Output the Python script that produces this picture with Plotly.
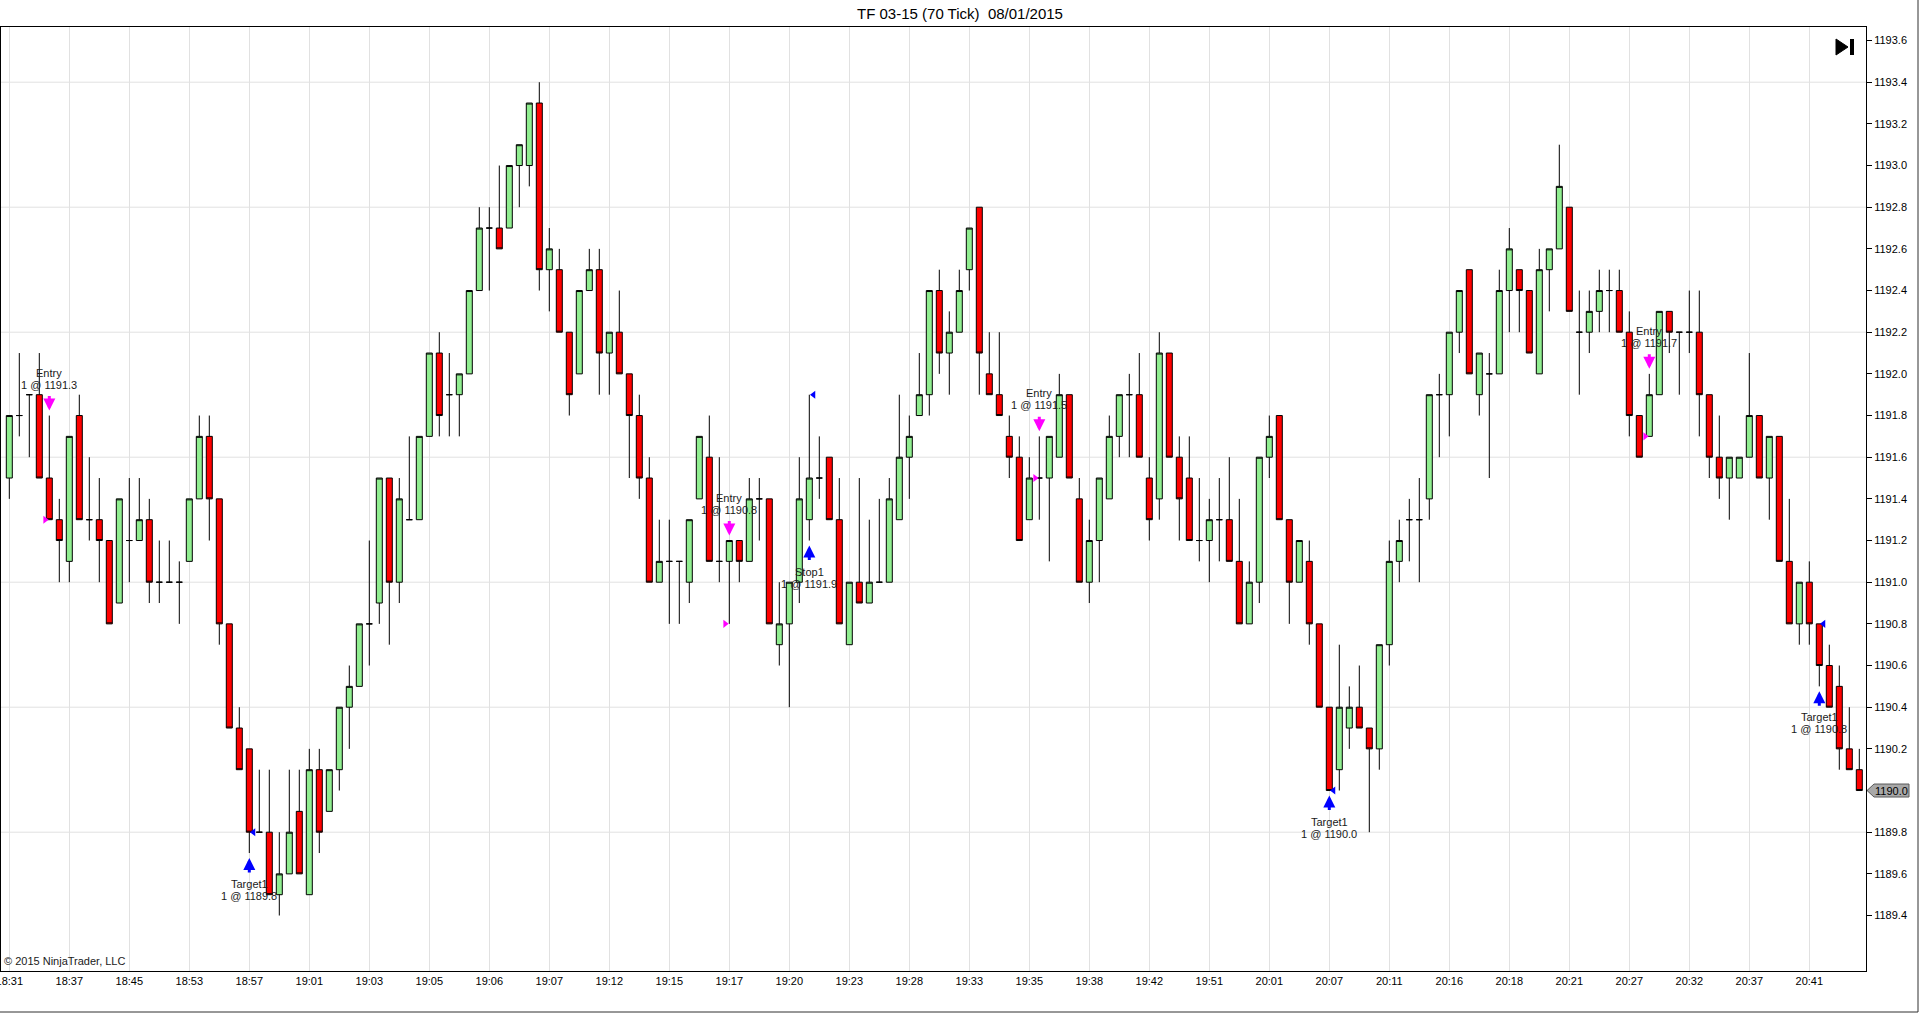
import plotly.graph_objects as go

# ---------------- data ----------------
OPEN = [1191.5, 1191.8, 1191.9, 1191.9, 1191.5, 1191.3, 1191.1, 1191.8, 1191.3, 1191.3,
        1191.2, 1190.9, 1191.2, 1191.2, 1191.3, 1191.0, 1191.0, 1191.0, 1191.1, 1191.4,
        1191.7, 1191.4, 1190.8, 1190.3, 1190.2, 1189.8, 1189.8, 1189.5, 1189.6, 1189.9,
        1189.5, 1190.1, 1189.9, 1190.1, 1190.4, 1190.5, 1190.8, 1190.9, 1191.5, 1191.0,
        1191.3, 1191.3, 1191.7, 1192.1, 1191.9, 1191.9, 1192.0, 1192.4, 1192.7, 1192.7,
        1192.7, 1193.0, 1193.0, 1193.3, 1192.5, 1192.5, 1192.2, 1192.0, 1192.4, 1192.5,
        1192.1, 1192.2, 1192.0, 1191.8, 1191.5, 1191.0, 1191.1, 1191.1, 1191.0, 1191.4,
        1191.6, 1191.1, 1191.1, 1191.2, 1191.1, 1191.4, 1191.4, 1190.7, 1190.8, 1191.0,
        1191.3, 1191.5, 1191.6, 1191.3, 1190.7, 1191.0, 1190.9, 1191.0, 1191.0, 1191.3,
        1191.6, 1191.8, 1191.9, 1192.4, 1192.1, 1192.2, 1192.5, 1192.8, 1192.0, 1191.9,
        1191.7, 1191.6, 1191.3, 1191.5, 1191.5, 1191.6, 1191.9, 1191.4, 1191.0, 1191.2,
        1191.4, 1191.7, 1191.9, 1191.9, 1191.5, 1191.4, 1192.1, 1191.6, 1191.5, 1191.2,
        1191.2, 1191.3, 1191.3, 1191.1, 1190.8, 1191.0, 1191.6, 1191.8, 1191.3, 1191.0,
        1191.1, 1190.8, 1190.4, 1190.1, 1190.3, 1190.4, 1190.3, 1190.2, 1190.7, 1191.1,
        1191.3, 1191.3, 1191.4, 1191.9, 1191.9, 1192.2, 1192.5, 1191.9, 1192.0, 1192.0,
        1192.4, 1192.5, 1192.4, 1192.0, 1192.5, 1192.6, 1192.8, 1192.2, 1192.2, 1192.3,
        1192.4, 1192.4, 1192.2, 1191.8, 1191.7, 1191.9, 1192.3, 1192.2, 1192.2, 1192.2,
        1191.9, 1191.6, 1191.5, 1191.5, 1191.6, 1191.8, 1191.5, 1191.7, 1191.1, 1190.8,
        1191.0, 1190.8, 1190.6, 1190.5, 1190.2, 1190.1]
HIGH = [1191.8, 1192.1, 1191.9, 1192.1, 1191.8, 1191.4, 1191.7, 1191.9, 1191.6, 1191.5,
        1191.2, 1191.4, 1191.5, 1191.5, 1191.4, 1191.2, 1191.2, 1191.1, 1191.4, 1191.8,
        1191.8, 1191.4, 1190.8, 1190.4, 1190.2, 1190.1, 1190.1, 1189.8, 1190.1, 1190.1,
        1190.2, 1190.2, 1190.1, 1190.4, 1190.6, 1190.8, 1191.2, 1191.5, 1191.5, 1191.5,
        1191.7, 1191.7, 1192.1, 1192.2, 1192.1, 1192.0, 1192.4, 1192.8, 1192.8, 1193.0,
        1193.0, 1193.1, 1193.3, 1193.4, 1192.7, 1192.6, 1192.2, 1192.4, 1192.6, 1192.6,
        1192.2, 1192.4, 1192.0, 1191.9, 1191.6, 1191.3, 1191.3, 1191.1, 1191.3, 1191.7,
        1191.8, 1191.6, 1191.2, 1191.2, 1191.5, 1191.5, 1191.4, 1191.0, 1191.0, 1191.6,
        1191.9, 1191.7, 1191.6, 1191.5, 1191.0, 1191.5, 1191.3, 1191.4, 1191.5, 1191.9,
        1191.8, 1192.1, 1192.4, 1192.5, 1192.3, 1192.5, 1192.7, 1192.8, 1192.2, 1192.2,
        1191.8, 1191.7, 1191.6, 1191.7, 1191.7, 1192.0, 1191.9, 1191.5, 1191.3, 1191.5,
        1191.8, 1191.9, 1192.0, 1192.1, 1191.6, 1192.2, 1192.1, 1191.7, 1191.7, 1191.5,
        1191.4, 1191.5, 1191.6, 1191.4, 1191.1, 1191.6, 1191.8, 1191.8, 1191.3, 1191.2,
        1191.2, 1190.8, 1190.4, 1190.7, 1190.5, 1190.6, 1190.3, 1190.7, 1191.2, 1191.3,
        1191.4, 1191.5, 1191.9, 1192.0, 1192.2, 1192.4, 1192.5, 1192.1, 1192.1, 1192.5,
        1192.7, 1192.5, 1192.4, 1192.6, 1192.6, 1193.1, 1192.8, 1192.4, 1192.4, 1192.5,
        1192.5, 1192.5, 1192.3, 1191.8, 1192.0, 1192.3, 1192.3, 1192.2, 1192.4, 1192.4,
        1191.9, 1191.8, 1191.6, 1191.6, 1192.1, 1191.8, 1191.7, 1191.7, 1191.4, 1191.0,
        1191.1, 1190.8, 1190.7, 1190.6, 1190.4, 1190.2]
LOW = [1191.4, 1191.7, 1191.6, 1191.5, 1191.3, 1191.0, 1191.0, 1191.3, 1191.2, 1191.0,
       1190.8, 1190.9, 1191.0, 1191.2, 1190.9, 1190.9, 1191.0, 1190.8, 1191.1, 1191.4,
       1191.2, 1190.7, 1190.3, 1190.1, 1189.7, 1189.8, 1189.5, 1189.4, 1189.6, 1189.6,
       1189.5, 1189.7, 1189.9, 1190.0, 1190.2, 1190.5, 1190.6, 1190.8, 1190.7, 1190.9,
       1191.3, 1191.3, 1191.7, 1191.7, 1191.7, 1191.7, 1192.0, 1192.4, 1192.4, 1192.6,
       1192.7, 1192.8, 1192.9, 1192.4, 1192.3, 1192.2, 1191.8, 1192.0, 1192.4, 1191.9,
       1191.9, 1192.0, 1191.5, 1191.4, 1191.0, 1191.0, 1190.8, 1190.8, 1190.9, 1191.4,
       1191.1, 1191.0, 1190.8, 1191.0, 1191.1, 1191.2, 1190.8, 1190.6, 1190.4, 1190.9,
       1191.2, 1191.4, 1191.3, 1190.8, 1190.7, 1190.9, 1190.9, 1191.0, 1191.0, 1191.3,
       1191.4, 1191.8, 1191.8, 1192.0, 1191.9, 1192.2, 1192.4, 1191.9, 1191.9, 1191.8,
       1191.5, 1191.2, 1191.3, 1191.3, 1191.1, 1191.6, 1191.5, 1191.0, 1190.9, 1191.0,
       1191.4, 1191.6, 1191.6, 1191.6, 1191.2, 1191.3, 1191.6, 1191.2, 1191.2, 1191.1,
       1191.0, 1191.1, 1191.1, 1190.8, 1190.8, 1190.9, 1191.5, 1191.3, 1190.8, 1191.0,
       1190.7, 1190.4, 1190.0, 1190.0, 1190.2, 1190.3, 1189.8, 1190.1, 1190.6, 1191.0,
       1191.1, 1191.0, 1191.3, 1191.6, 1191.7, 1192.1, 1192.0, 1191.8, 1191.5, 1192.0,
       1192.2, 1192.2, 1192.1, 1192.0, 1192.3, 1192.6, 1192.3, 1191.9, 1192.1, 1192.2,
       1192.2, 1192.2, 1191.7, 1191.6, 1191.7, 1191.9, 1192.1, 1191.9, 1192.1, 1191.7,
       1191.5, 1191.4, 1191.3, 1191.5, 1191.6, 1191.5, 1191.3, 1191.1, 1190.8, 1190.7,
       1190.7, 1190.5, 1190.4, 1190.1, 1190.1, 1190.0]
CLOSE = [1191.8, 1191.8, 1191.9, 1191.5, 1191.3, 1191.2, 1191.7, 1191.3, 1191.3, 1191.2,
         1190.8, 1191.4, 1191.2, 1191.3, 1191.0, 1191.0, 1191.0, 1191.0, 1191.4, 1191.7,
         1191.4, 1190.8, 1190.3, 1190.1, 1189.8, 1189.8, 1189.5, 1189.6, 1189.8, 1189.6,
         1190.1, 1189.8, 1190.1, 1190.4, 1190.5, 1190.8, 1190.8, 1191.5, 1191.0, 1191.4,
         1191.3, 1191.7, 1192.1, 1191.8, 1191.9, 1192.0, 1192.4, 1192.7, 1192.7, 1192.6,
         1193.0, 1193.1, 1193.3, 1192.5, 1192.6, 1192.2, 1191.9, 1192.4, 1192.5, 1192.1,
         1192.2, 1192.0, 1191.8, 1191.5, 1191.0, 1191.1, 1191.1, 1191.1, 1191.3, 1191.7,
         1191.1, 1191.1, 1191.2, 1191.1, 1191.4, 1191.4, 1190.8, 1190.8, 1191.0, 1191.4,
         1191.5, 1191.5, 1191.3, 1190.8, 1191.0, 1190.9, 1191.0, 1191.0, 1191.4, 1191.6,
         1191.7, 1191.9, 1192.4, 1192.1, 1192.2, 1192.4, 1192.7, 1192.1, 1191.9, 1191.8,
         1191.6, 1191.2, 1191.5, 1191.5, 1191.7, 1191.9, 1191.5, 1191.0, 1191.2, 1191.5,
         1191.7, 1191.9, 1191.9, 1191.6, 1191.3, 1192.1, 1191.6, 1191.4, 1191.2, 1191.2,
         1191.3, 1191.3, 1191.1, 1190.8, 1191.0, 1191.6, 1191.7, 1191.3, 1191.0, 1191.2,
         1190.8, 1190.4, 1190.0, 1190.4, 1190.4, 1190.3, 1190.2, 1190.7, 1191.1, 1191.2,
         1191.3, 1191.3, 1191.9, 1191.9, 1192.2, 1192.4, 1192.0, 1192.1, 1192.0, 1192.4,
         1192.6, 1192.4, 1192.1, 1192.5, 1192.6, 1192.9, 1192.3, 1192.2, 1192.3, 1192.4,
         1192.4, 1192.2, 1191.8, 1191.6, 1191.9, 1192.3, 1192.2, 1192.2, 1192.2, 1191.9,
         1191.6, 1191.5, 1191.6, 1191.6, 1191.8, 1191.5, 1191.7, 1191.1, 1190.8, 1191.0,
         1190.8, 1190.6, 1190.4, 1190.2, 1190.1, 1190.0]

TIME_LABELS = ["18:31", "18:37", "18:45", "18:53", "18:57", "19:01", "19:03", "19:05",
               "19:06", "19:07", "19:12", "19:15", "19:17", "19:20", "19:23", "19:28",
               "19:33", "19:35", "19:38", "19:42", "19:51", "20:01", "20:07", "20:11",
               "20:16", "20:18", "20:21", "20:27", "20:32", "20:37", "20:41"]
BARS_PER_LABEL = 6
PRICE_TICKS = [1189.4, 1189.6, 1189.8, 1190.0, 1190.2, 1190.4, 1190.6, 1190.8, 1191.0,
               1191.2, 1191.4, 1191.6, 1191.8, 1192.0, 1192.2, 1192.4, 1192.6, 1192.8,
               1193.0, 1193.2, 1193.4, 1193.6]
GRID_PRICES = [1189.8, 1190.4, 1191.0, 1191.6, 1192.2, 1192.8, 1193.4]

EXEC_BAR = [4, 24, 72, 80, 103, 132, 164, 181]
EXEC_NAME = ["Entry", "Target1", "Entry", "Stop1", "Entry", "Target1", "Entry", "Target1"]
EXEC_PRICE = [1191.3, 1189.8, 1190.8, 1191.9, 1191.5, 1190.0, 1191.7, 1190.8]
EXEC_QTY = [1, 1, 1, 1, 1, 1, 1, 1]
EXEC_SIDE = ["sell", "buy", "sell", "buy", "sell", "buy", "sell", "buy"]

TITLE = "TF 03-15 (70 Tick)  08/01/2015"
COPYRIGHT = "© 2015 NinjaTrader, LLC"

FONT = "Liberation Sans, Arial, sans-serif"
UP_FILL = "#90EE90"
DOWN_FILL = "#FF0000"
SELL_COLOR = "#FF00FF"
BUY_COLOR = "#0000FF"
GRID_COLOR = "#e1e1e1"

# ---------------- figure ----------------
W, H = 1920, 1014
ML, MR, MT, MB = 1, 54, 27, 43
PX_PER_BAR = 10.0
PX_PER_PRICE = 208.33
FIRST_BAR_PX = 8.3          # first bar centre, px from plot left edge
TOP_PRICE = 1193.665

plot_w = W - ML - MR
plot_h = H - MT - MB
x_min = -FIRST_BAR_PX / PX_PER_BAR
x_max = x_min + plot_w / PX_PER_BAR
y_max = TOP_PRICE
y_min = TOP_PRICE - plot_h / PX_PER_PRICE

idx = list(range(len(OPEN)))

fig = go.Figure()
fig.add_trace(go.Candlestick(
    x=idx, open=OPEN, high=HIGH, low=LOW, close=CLOSE,
    increasing=dict(fillcolor=UP_FILL, line=dict(color="black", width=1)),
    decreasing=dict(fillcolor=DOWN_FILL, line=dict(color="black", width=1)),
    whiskerwidth=0, hoverinfo="skip", showlegend=False,
))

# execution fill triangles
sell_x = [b - 0.42 for b, s in zip(EXEC_BAR, EXEC_SIDE) if s == "sell"]
sell_y = [p for p, s in zip(EXEC_PRICE, EXEC_SIDE) if s == "sell"]
buy_x = [b + 0.42 for b, s in zip(EXEC_BAR, EXEC_SIDE) if s == "buy"]
buy_y = [p for p, s in zip(EXEC_PRICE, EXEC_SIDE) if s == "buy"]
fig.add_trace(go.Scatter(x=sell_x, y=sell_y, mode="markers",
                         marker=dict(symbol="triangle-right", size=7, color=SELL_COLOR),
                         hoverinfo="skip", showlegend=False, cliponaxis=False))
fig.add_trace(go.Scatter(x=buy_x, y=buy_y, mode="markers",
                         marker=dict(symbol="triangle-left", size=7, color=BUY_COLOR),
                         hoverinfo="skip", showlegend=False, cliponaxis=False))

annotations = []
for b, name, p, q, side in zip(EXEC_BAR, EXEC_NAME, EXEC_PRICE, EXEC_QTY, EXEC_SIDE):
    fill_text = f"{q} @ {p:.1f}"
    if side == "sell":
        anchor = HIGH[b]
        color = SELL_COLOR
        sign = 1
        near, far = fill_text, name
    else:
        anchor = LOW[b]
        color = BUY_COLOR
        sign = -1
        near, far = name, fill_text
    annotations.append(dict(x=b, y=anchor, xref="x", yref="y", text="",
                            showarrow=True, ax=0, ay=-21 * sign, axref="pixel", ayref="pixel",
                            standoff=5, arrowhead=2, arrowsize=0.8, arrowwidth=3,
                            arrowcolor=color))
    annotations.append(dict(x=b, y=anchor, xref="x", yref="y", text=near, showarrow=False,
                            yshift=31 * sign, yanchor="middle", xanchor="center",
                            font=dict(family=FONT, size=11, color="#1a1a1a")))
    annotations.append(dict(x=b, y=anchor, xref="x", yref="y", text=far, showarrow=False,
                            yshift=43 * sign, yanchor="middle", xanchor="center",
                            font=dict(family=FONT, size=11, color="#1a1a1a")))

# copyright
annotations.append(dict(x=0, y=0, xref="paper", yref="paper", xanchor="left", yanchor="bottom",
                        xshift=1, yshift=2, text=COPYRIGHT, showarrow=False,
                        font=dict(family=FONT, size=11, color="#1a1a1a")))

# current price marker
last = CLOSE[-1]
annotations.append(dict(x=1, y=last, xref="paper", yref="y", xanchor="center", yanchor="middle",
                        xshift=25, text=f"{last:.1f}", showarrow=False,
                        font=dict(family=FONT, size=11, color="black")))

shapes = []
for gp in GRID_PRICES:
    shapes.append(dict(type="line", xref="x domain", yref="y", x0=0, x1=1, y0=gp, y1=gp,
                       line=dict(color=GRID_COLOR, width=1), layer="below"))

px = 1.0 / plot_w
half = 6.5 / PX_PER_PRICE
path = (f"M{1 + 1 * px},{last} L{1 + 8 * px},{last + half} L{1 + 43 * px},{last + half} "
        f"L{1 + 43 * px},{last - half} L{1 + 8 * px},{last - half} Z")
shapes.append(dict(type="path", xref="paper", yref="y", path=path,
                   fillcolor="#a8a8a8", line=dict(color="#5a5a5a", width=1), layer="above"))

# "go to latest" icon at top right
pw = plot_w
ph = plot_h
def xd(px_from_left):
    return px_from_left / pw
def yd(px_from_top):
    return 1 - px_from_top / ph
shapes.append(dict(type="path", xref="paper", yref="paper",
                   path=f"M{xd(1835)},{yd(12)} L{xd(1835)},{yd(28)} L{xd(1847)},{yd(20)} Z",
                   fillcolor="black", line=dict(color="black", width=1)))
shapes.append(dict(type="rect", xref="paper", yref="paper",
                   x0=xd(1849), x1=xd(1853), y0=yd(28), y1=yd(12),
                   fillcolor="black", line=dict(color="black", width=0)))

# outer frame (right & bottom)
shapes.append(dict(type="line", xref="paper", yref="paper",
                   x0=xd(W - ML - 2), x1=xd(W - ML - 2), y0=yd(-MT), y1=yd(H - MT - 2),
                   line=dict(color="#303030", width=1)))
shapes.append(dict(type="line", xref="paper", yref="paper",
                   x0=xd(-ML), x1=xd(W - ML - 2), y0=yd(H - MT - 2), y1=yd(H - MT - 2),
                   line=dict(color="#303030", width=1)))

fig.update_layout(
    width=W, height=H,
    margin=dict(l=ML, r=MR, t=MT, b=MB, pad=0, autoexpand=False),
    paper_bgcolor="white", plot_bgcolor="white",
    showlegend=False,
    boxgap=0.4, boxgroupgap=0,
    title=dict(text=TITLE, x=0.5, xref="container", xanchor="center",
               y=1 - 13.5 / H, yref="container", yanchor="middle",
               font=dict(family=FONT, size=15, color="black")),
    xaxis=dict(range=[x_min, x_max], rangeslider=dict(visible=False), automargin=False,
               tickmode="array",
               tickvals=[k * BARS_PER_LABEL for k in range(len(TIME_LABELS))],
               ticktext=TIME_LABELS, ticks="", showgrid=True, gridcolor=GRID_COLOR,
               gridwidth=1, zeroline=False, showline=True, linecolor="black", linewidth=1,
               mirror=True, ticklabeloverflow="allow",
               tickfont=dict(family=FONT, size=11, color="black")),
    yaxis=dict(range=[y_min, y_max], side="right", tickmode="array", automargin=False,
               tickvals=PRICE_TICKS, ticktext=[f"{v:.1f}" for v in PRICE_TICKS],
               ticks="outside", ticklen=5, tickcolor="black", showgrid=False,
               zeroline=False, showline=True, linecolor="black", linewidth=1, mirror=True,
               tickfont=dict(family=FONT, size=11, color="black")),
    annotations=annotations,
    shapes=shapes,
)

fig.write_html("out.html", config={"displayModeBar": False},
               post_script="document.body.style.margin='0';document.body.style.overflow='hidden';")
